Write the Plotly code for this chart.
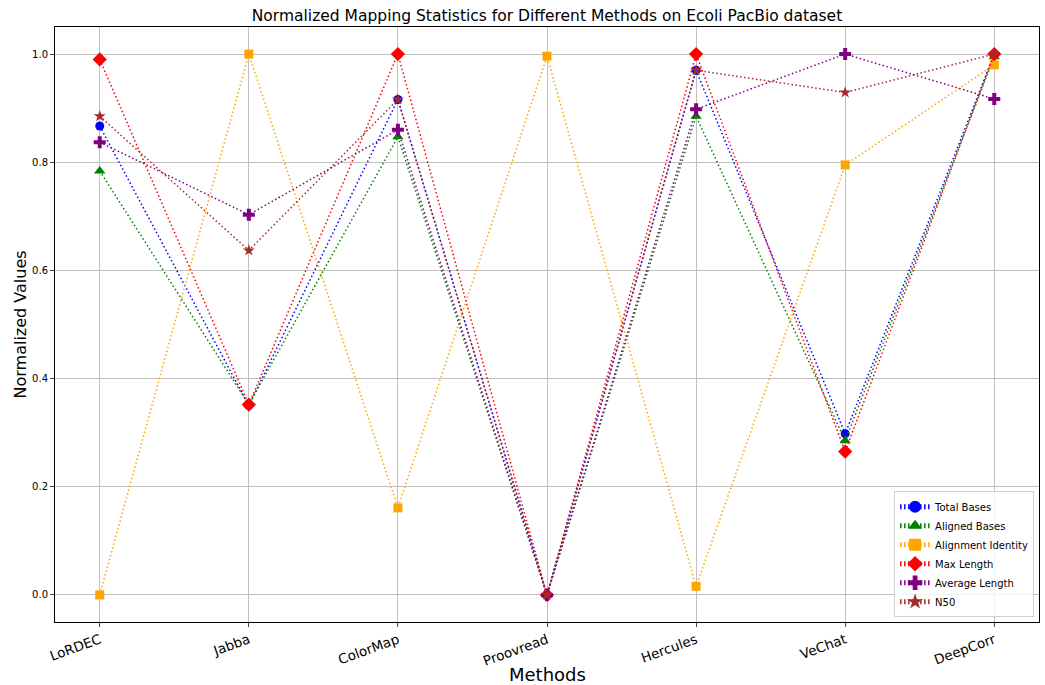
import plotly.graph_objects as go

methods = ["LoRDEC", "Jabba", "ColorMap", "Proovread", "Hercules", "VeChat", "DeepCorr"]
total_bases = [0.867, 0.350, 0.916, 0.0, 0.970, 0.298, 1.0]
aligned_bases = [0.784, 0.352, 0.847, 0.0, 0.885, 0.285, 0.995]
alignment_identity = [0.0, 1.0, 0.161, 0.996, 0.016, 0.795, 0.980]
max_length = [0.990, 0.352, 1.0, 0.0, 1.0, 0.265, 1.0]
average_length = [0.837, 0.703, 0.860, 0.0, 0.898, 1.0, 0.917]
n50 = [0.885, 0.637, 0.916, 0.0, 0.970, 0.929, 1.0]

series = [
    ("Total Bases", total_bases, "blue", "circle", 9),
    ("Aligned Bases", aligned_bases, "green", "triangle-up", 10),
    ("Alignment Identity", alignment_identity, "orange", "square", 9),
    ("Max Length", max_length, "red", "diamond", 11),
    ("Average Length", average_length, "purple", "cross", 10),
    ("N50", n50, "brown", "star", 9),
]

fig = go.Figure()
for name, vals, color, sym, size in series:
    fig.add_trace(go.Scatter(
        x=list(range(len(methods))), y=vals, name=name, mode="lines+markers",
        line=dict(color=color, dash="1.5px,2.5px", width=1.5),
        marker=dict(color=color, symbol=sym, size=size, line=dict(width=0)),
    ))

fig.update_layout(
    width=1045, height=685,
    paper_bgcolor="white", plot_bgcolor="white",
    margin=dict(l=55, r=6, t=27, b=63, autoexpand=False),
    font=dict(family="DejaVu Sans", color="black"),
    title=dict(text="Normalized Mapping Statistics for Different Methods on Ecoli PacBio dataset",
               x=0.5, xref="paper", xanchor="center", y=1 - 16 / 685, yref="container",
               yanchor="middle", font=dict(size=15.5)),
    xaxis=dict(
        range=[-0.3, 6.3], tickmode="array", tickvals=list(range(len(methods))), ticktext=methods,
        tickangle=-20, tickfont=dict(size=13.5), showgrid=True, gridcolor="#c0c0c0", gridwidth=1,
        showline=True, linecolor="black", linewidth=1, mirror=True, ticks="outside", ticklen=4,
        zeroline=False, automargin=False,
    ),
    yaxis=dict(
        range=[-0.05, 1.05], tickvals=[0, 0.2, 0.4, 0.6, 0.8, 1.0],
        ticktext=["0.0", "0.2", "0.4", "0.6", "0.8", "1.0"], tickfont=dict(size=10),
        showgrid=True, gridcolor="#c0c0c0", gridwidth=1, zeroline=False,
        showline=True, linecolor="black", linewidth=1, mirror=True, ticks="outside", ticklen=4,
        automargin=False,
    ),
    legend=dict(x=0.995, y=0.008, xanchor="right", yanchor="bottom",
                bgcolor="rgba(255,255,255,0.8)", bordercolor="#d0d0d0", borderwidth=1,
                font=dict(size=10), tracegroupgap=0, itemsizing="constant", itemwidth=30),
    annotations=[
        dict(text="Methods", x=0.5, xref="paper", y=0, yref="paper", yanchor="middle",
             yshift=-(674 - 622), showarrow=False, font=dict(size=18)),
        dict(text="Normalized Values", x=0, xref="paper", xanchor="center", xshift=-(55 - 20),
             y=0.5, yref="paper", textangle=-90, showarrow=False, font=dict(size=16)),
    ],
)

fig.write_html("out.html", config={"displayModeBar": False},
               post_script="document.body.style.margin='0px';")
